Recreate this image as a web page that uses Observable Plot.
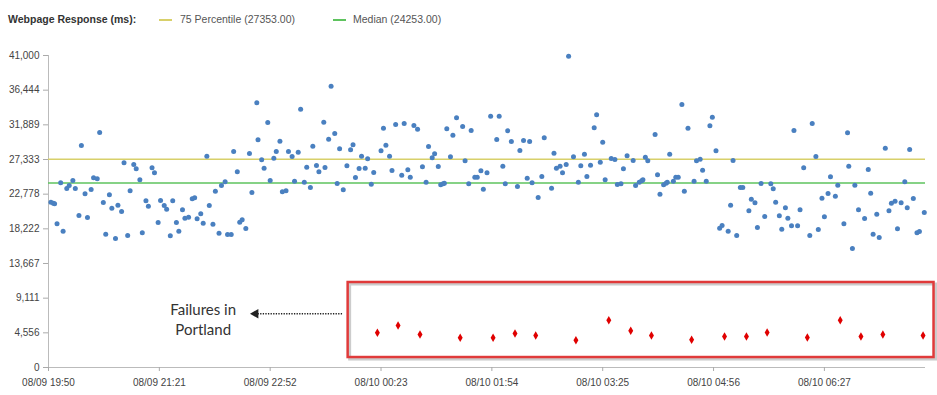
<!DOCTYPE html>
<html><head><meta charset="utf-8">
<script src="https://cdn.jsdelivr.net/npm/d3@7"></script>
<script src="https://cdn.jsdelivr.net/npm/@observablehq/plot@0.6"></script>
<style>
body{margin:0;background:#fff;font-family:"Liberation Sans",Arial,sans-serif;}
#legend{position:relative;height:38px;width:937px;font-size:10.5px;color:#555;}
#legend .t{position:absolute;top:13px;white-space:nowrap;line-height:12px;}
#legend .b{font-weight:bold;color:#333;}
#legend .sw{position:absolute;top:19px;width:13px;height:2px;}
</style></head><body>
<div id="legend"></div>
<div id="chart"></div>
<script>
// ---- data ----
const dataYear = "2016";
const legendTitle = "Webpage Response (ms):";
const lineLabels = ["75 Percentile", "Median"];
const lineValues = [27353, 24253];
const lineColors = ["#d8d06a", "#5ec35e"];
const xTickLabels = ["08/09 19:50","08/09 21:21","08/09 22:52","08/10 00:23","08/10 01:54","08/10 03:25","08/10 04:56","08/10 06:27"];
const windowMinutes = 720;
const yTicks = [0, 4556, 9111, 13667, 18222, 22778, 27333, 31889, 36444, 41000];

// minutes after 08/09 19:50
const responseMinutes = [
2,4,5,7,10,12,15,17,20,22,25,27,30,32,35,37,40,42,45,47,50,52,55,57,60,62,65,67,70,72,75,77,80,82,85,87,90,92,95,97,100,102,105,107,110,112,115,118,120,122,125,127,130,132,135,137,140,142,145,147,150,152,155,157,159,162,165,167,171,172,175,177,180,182,185,187,190,192,195,197,200,202,205,207,210,212,215,217,220,222,226,227,230,232,235,237,239,
242,245,248,250,252,255,257,260,262,265,267,273,275,277,280,282,285,290,292,295,297,300,303,307,310,312,315,317,320,322,324,325,327,330,332,335,340,342,345,347,350,352,355,357,360,363,368,370,373,375,377,380,385,387,390,393,395,397,402,405,407,413,415,417,420,422,425,427,431,435,437,440,442,445,448,450,453,455,457,462,465,467,470,
472,475,480,482,485,487,488,490,492,498,500,502,505,507,508,510,513,515,517,520,522,525,530,532,535,537,540,543,545,548,551,553,558,560,562,565,568,570,575,577,580,582,585,588,593,595,597,600,602,605,607,610,612,615,617,620,625,627,630,632,635,637,640,642,646,648,653,656,657,660,662,665,670,673,675,677,680,682,687,690,692,695,697,700,703,705,707,710,713,715,719];
const responseValues = [
21725,21593,21506,18878,24265,17914,23521,23915,24572,23521,19973,29171,22820,19710,23389,24922,24791,30879,21681,17520,22688,20936,16951,21331,20498,26893,17345,23214,26674,26105,24659,17695,21900,21199,26236,25579,19053,21944,21287,20805,17301,21900,19053,17914,20717,19622,19754,22163,22294,19535,20192,18965,27769,21287,18834,23170,17651,23915,24397,17476,17476,28382,25711,19097,19403,18265,28120,22995,34777,29915,27287,26192,32193,24572,27506,28382,29740,23083,23214,28382,27725,24484,28295,33945,24353,26324,23652,29083,26543,25711,32237,26280,30003,36967,30748,24178,28733,
23345,26499,28601,29258,24966,26149,27769,26192,27419,24090,25623,28470,31448,29215,27769,25886,31930,25273,32062,25973,25010,31799,31317,26368,24353,29039,27550,28076,26411,24002,24134,24221,31361,27682,30529,32806,31667,27156,24134,31142,25010,25010,25842,23433,25579,33025,29959,33025,26455,24134,31098,29696,23783,28514,29828,24878,29696,24265,22338,25097,30178,23564,28163,26192,26455,25579,26674,40900,27682,24353,26499,28032,25097,26587,31492,33200,26981,29609,24659,27463,27331,24046,24134,
26105,27813,27200,23915,24353,24528,24659,27638,27156,30616,25316,22776,24002,24221,24353,28032,24484,25010,25010,34558,23170,31448,24484,27156,27375,25930,24484,31755,32894,28470,18308,18659,17914,21331,27200,17345,23652,23652,20586,22119,21637,18396,24178,19841,24134,23477,21725,19929,18177,20980,19622,18615,31142,18615,20717,26236,17345,32062,27725,18133,22250,19798,22864,25054,22513,23959,18878,30835,26455,15637,23959,20717,19579,26017,22907,17520,20148,17082,28820,20586,21593,21856,18221,21637,24397,20980,28645,22207,17695,17870,20367];

const failureMinutes = [270,287,305,338,365,383,400,433,460,478,495,528,555,573,590,623,650,667,685,718];
const failureValues = [4560,5519,4337,3903,3903,4468,4205,3588,6216,4823,4205,3640,4074,4074,4599,3942,6216,4074,4337,4205];

// annotation (in data units)
const annotationText = "Failures in\nPortland";
const annotationAt = {m: 127, v: 6440};
const arrowFrom = {m: 241, v: 7060};
const arrowTo = {m: 170, v: 7060};
const boxRange = {m1: 246, m2: 727, v1: 1310, v2: 11170};

// ---- build ----
const parse = d3.utcParse("%Y %m/%d %H:%M");
const xTicks = xTickLabels.map(s => parse(dataYear + " " + s));
const start = xTicks[0];
const at = m => new Date(+start + m * 60000);
const response = responseMinutes.map((m, i) => ({t: at(m), v: responseValues[i]}));
const failures = failureMinutes.map((m, i) => ({t: at(m), v: failureValues[i]}));

// legend
const legend = document.getElementById("legend");
legend.innerHTML =
  `<span class="t b" style="left:8px">${legendTitle}</span>` +
  `<span class="sw" style="left:159px;background:${lineColors[0]}"></span>` +
  `<span class="t" style="left:180px">${lineLabels[0]} (${lineValues[0].toFixed(2)})</span>` +
  `<span class="sw" style="left:333px;background:${lineColors[1]}"></span>` +
  `<span class="t" style="left:353px">${lineLabels[1]} (${lineValues[1].toFixed(2)})</span>`;

const chart = Plot.plot({
  width: 937, height: 357,
  marginTop: 17, marginBottom: 28, marginLeft: 48, marginRight: 12,
  style: {fontFamily: "'Liberation Sans', Arial, sans-serif", fontSize: "10px", color: "#aaa", background: "#fff", overflow: "visible"},
  x: {type: "utc", domain: [start, at(windowMinutes)], axis: null},
  y: {domain: [0, yTicks[yTicks.length - 1]], axis: null},
  marks: [
    Plot.ruleX([start], {stroke: "#bbb"}),
    Plot.ruleY([0], {stroke: "#bbb"}),
    Plot.axisY({ticks: yTicks, tickFormat: d3.format(","), tickSize: 5, tickPadding: 4, stroke: "#aaa", fill: "#444", label: null}),
    Plot.axisX({ticks: xTicks, tickFormat: d3.utcFormat("%m/%d %H:%M"), tickSize: 4, tickPadding: 7, stroke: "#aaa", fill: "#444", label: null}),
    Plot.ruleY([lineValues[0]], {stroke: lineColors[0], strokeWidth: 1.5}),
    Plot.ruleY([lineValues[1]], {stroke: lineColors[1], strokeWidth: 1.5}),
    Plot.dot(response, {x: "t", y: "v", r: 2.5, fill: "#4a80c0"}),
    Plot.rect([boxRange], {x1: d => at(d.m1), x2: d => at(d.m2), y1: "v1", y2: "v2", fill: "none", stroke: "#999", strokeOpacity: 0.5, strokeWidth: 3, dx: 2, dy: 2}),
    Plot.rect([boxRange], {x1: d => at(d.m1), x2: d => at(d.m2), y1: "v1", y2: "v2", fill: "none", stroke: "#e03a3a", strokeWidth: 2.5}),
    Plot.dot(failures, {x: "t", y: "v", symbol: "diamond", r: 2.6, fill: "#e00000"}),
    Plot.text([annotationAt], {x: d => at(d.m), y: "v", text: () => annotationText, fontSize: 15, fontFamily: "Lato, 'Open Sans', sans-serif", lineHeight: 1.33, fill: "#333", textAnchor: "middle"}),
    Plot.link([{a: arrowFrom, b: arrowTo}], {x1: d => at(d.a.m), y1: d => d.a.v, x2: d => at(d.b.m), y2: d => d.b.v, stroke: "#222", strokeWidth: 1.6, strokeDasharray: "1.3,1.3"}),
    Plot.dot([arrowTo], {x: d => at(d.m), y: "v", symbol: "triangle", r: 3.6, rotate: -90, fill: "#222"})
  ]
});
document.getElementById("chart").appendChild(chart);
</script>
</body></html>
